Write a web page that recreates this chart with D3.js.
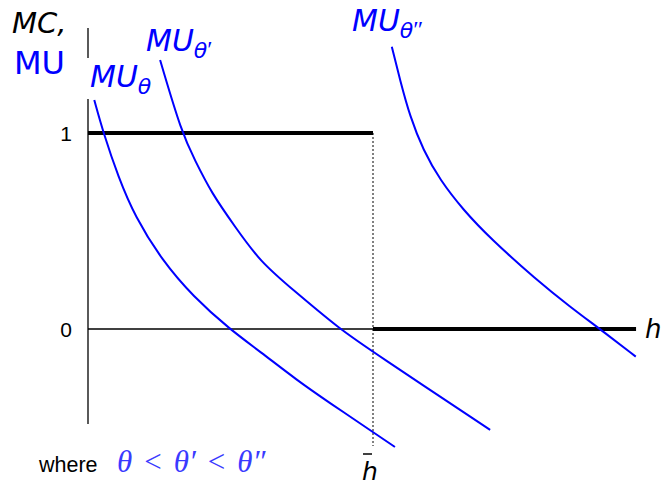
<!DOCTYPE html>
<html>
<head>
<meta charset="utf-8">
<script src="https://cdn.jsdelivr.net/npm/d3@7"></script>
<style>
  body { margin: 0; background: #fff; }
  svg { display: block; }
</style>
</head>
<body>
<div id="chart"></div>
<script>
// values (h in units of h-bar, MU/MC in units of the cost level)
const hBar = 1
const mcLevels = [1, 0]
const yTicks = [0, 1]

const muTheta = [
  [0.022, 1.168], [0.054, 1.0], [0.106, 0.777], [0.165, 0.573], [0.259, 0.352],
  [0.369, 0.165], [0.498, -0.002], [0.604, -0.115], [0.732, -0.26], [0.849, -0.378],
  [1.0, -0.526], [1.077, -0.602],
]
const muTheta1 = [
  [0.253, 1.372], [0.329, 1.0], [0.375, 0.862], [0.434, 0.692], [0.516, 0.522],
  [0.604, 0.343], [0.72, 0.199], [0.884, -0.002], [1.0, -0.117], [1.411, -0.515],
]
const muTheta2 = [
  [1.066, 1.44], [1.095, 1.27], [1.13, 1.083], [1.176, 0.913], [1.235, 0.76],
  [1.317, 0.607], [1.411, 0.463], [1.574, 0.25], [1.691, 0.114], [1.796, 0.0],
  [1.922, -0.141],
]

const width = 662
const height = 487
const blue = '#0000ff'

const x = d3.scaleLinear().domain([0, 2]).range([88, 658])
const y = d3.scaleLinear().domain([0, 1]).range([329, 133])
const hMax = 1.923
const uTop = 1.536
const uBottom = -0.485

const svg = d3
  .select('#chart')
  .append('svg')
  .attr('width', width)
  .attr('height', height)
  .style('font-family', '"Liberation Sans", Arial, sans-serif')

// vertical axis
svg.append('line')
  .attr('x1', x(0)).attr('x2', x(0))
  .attr('y1', y(uTop)).attr('y2', y(uBottom))
  .attr('stroke', '#000').attr('stroke-width', 1.3)

// horizontal axis (thin part up to h-bar)
svg.append('line')
  .attr('x1', x(0)).attr('x2', x(hBar))
  .attr('y1', y(0)).attr('y2', y(0))
  .attr('stroke', '#000').attr('stroke-width', 1.3)

// dotted h-bar guide
svg.append('line')
  .attr('x1', x(hBar)).attr('x2', x(hBar))
  .attr('y1', y(1)).attr('y2', y(-0.597))
  .attr('stroke', '#000').attr('stroke-width', 1)
  .attr('stroke-dasharray', '2,2')

// marginal cost: 1 up to h-bar, 0 after
svg.append('line')
  .attr('x1', x(0)).attr('x2', x(hBar))
  .attr('y1', y(mcLevels[0])).attr('y2', y(mcLevels[0]))
  .attr('stroke', '#000').attr('stroke-width', 4)
svg.append('line')
  .attr('x1', x(hBar)).attr('x2', x(hMax))
  .attr('y1', y(mcLevels[1])).attr('y2', y(mcLevels[1]))
  .attr('stroke', '#000').attr('stroke-width', 4)

// tick labels
svg.selectAll('.tick')
  .data(yTicks)
  .join('text')
  .attr('class', 'tick')
  .attr('x', 66)
  .attr('y', (d) => y(d))
  .attr('dy', '0.36em')
  .attr('text-anchor', 'middle')
  .style('font-size', '21px')
  .text((d) => d)

// blanking box for the MU_theta label over the axis
svg.append('rect')
  .attr('x', 84).attr('y', 58).attr('width', 74).attr('height', 41)
  .attr('fill', '#fff')

const line = d3.line()
  .x((d) => x(d[0]))
  .y((d) => y(d[1]))
  .curve(d3.curveBasis)

svg.selectAll('.mu')
  .data([muTheta, muTheta1, muTheta2])
  .join('path')
  .attr('class', 'mu')
  .attr('d', line)
  .attr('fill', 'none')
  .attr('stroke', blue)
  .attr('stroke-width', 2)

// curve labels
function muLabel(px, py, primes) {
  const t = svg.append('text')
    .attr('x', px).attr('y', py)
    .attr('fill', blue)
    .style('font-family', '"DejaVu Sans", sans-serif')
    .style('font-style', 'italic')
    .style('font-size', '30px')
  t.append('tspan').text('MU')
  t.append('tspan')
    .attr('dy', 7)
    .style('font-size', '22px')
    .text('θ')
  if (primes) {
    t.append('tspan')
      .attr('dy', -1)
      .style('font-family', '"Liberation Serif", serif')
      .style('font-size', '24px')
      .style('font-style', 'normal')
      .text(primes)
  }
}
muLabel(90, 87, '')
muLabel(146, 51, '′')
muLabel(352, 31, '″')

// axis titles
svg.append('text')
  .attr('x', 12).attr('y', 33)
  .style('font-family', '"DejaVu Sans", sans-serif')
  .style('font-style', 'italic')
  .style('font-size', '29px')
  .text('MC,')
svg.append('text')
  .attr('x', 14).attr('y', 74)
  .attr('fill', blue)
  .style('font-family', '"DejaVu Sans", sans-serif')
  .style('font-size', '32px')
  .text('MU')

svg.append('text')
  .attr('x', 645).attr('y', y(0))
  .attr('dy', '0.36em')
  .style('font-family', '"DejaVu Sans", sans-serif')
  .style('font-style', 'italic')
  .style('font-size', '26px')
  .text('h')

// h-bar label
const hb = svg.append('g')
hb.append('text')
  .attr('x', x(hBar) - 3).attr('y', 480)
  .attr('text-anchor', 'middle')
  .style('font-family', '"DejaVu Sans", sans-serif')
  .style('font-style', 'italic')
  .style('font-size', '25px')
  .text('h')
hb.append('line')
  .attr('x1', x(hBar) - 10).attr('x2', x(hBar) - 1)
  .attr('y1', 454).attr('y2', 454)
  .attr('stroke', '#000').attr('stroke-width', 1.5)

// footnote
svg.append('text')
  .attr('x', 39).attr('y', 472)
  .style('font-size', '21.5px')
  .text('where')
const rel = svg.append('text')
  .attr('x', 117).attr('y', 472)
  .attr('fill', '#3a3aff')
  .style('font-family', '"Liberation Serif", "Times New Roman", serif')
  .style('font-size', '31px')
const relParts = [['θ', true], ['<', false], ['θ′', true], ['<', false], ['θ″', true]]
relParts.forEach(([s, it], i) => {
  rel.append('tspan')
    .attr('dx', i ? 12 : 0)
    .style('font-style', it ? 'italic' : 'normal')
    .text(s)
})
</script>
</body>
</html>
